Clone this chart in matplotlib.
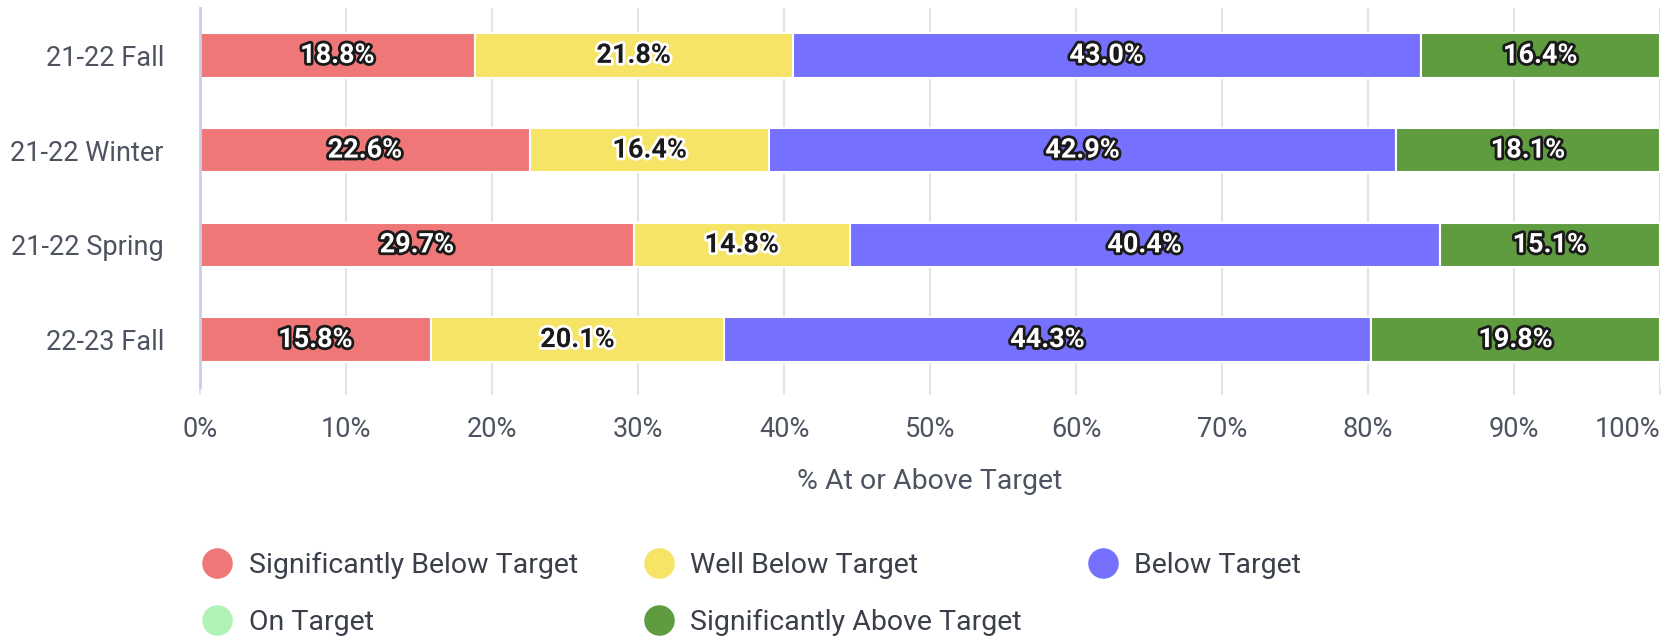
import matplotlib.pyplot as plt
import matplotlib.patheffects as pe
from matplotlib.lines import Line2D
import numpy as np

plt.rcParams['font.family'] = ['Roboto', 'DejaVu Sans']

terms = ['21-22 Fall', '21-22 Winter', '21-22 Spring', '22-23 Fall']
levels = ['Significantly Below Target', 'Well Below Target', 'Below Target',
          'On Target', 'Significantly Above Target']
sig_below = [18.8, 22.6, 29.7, 15.8]
well_below = [21.8, 16.4, 14.8, 20.1]
below = [43.0, 42.9, 40.4, 44.3]
on_target = [0, 0, 0, 0]
sig_above = [16.4, 18.1, 15.1, 19.8]

colors = ['#f07777', '#f5e465', '#7570fe', '#b0f2b6', '#5f9b3f']
series = [sig_below, well_below, below, on_target, sig_above]

fig = plt.figure(figsize=(16.63, 6.39), dpi=100)
ax = fig.add_axes([0.1203, 0.3944, 0.8779, 0.5931])

y = np.arange(len(terms))
left = np.zeros(len(terms))
for vals, col in zip(series, colors):
    vals = np.array(vals, dtype=float)
    ax.barh(y, vals, left=left, height=0.47, color=col,
            edgecolor='white', linewidth=1.5, zorder=3)
    for yi, l, v in zip(y, left, vals):
        if v <= 0:
            continue
        if col == '#f5e465':
            tc, oc = '#1a1a1a', 'white'
        else:
            tc, oc = 'white', '#1a1a1a'
        ax.text(l + v / 2, yi, '{:.1f}%'.format(v), ha='center', va='center',
                fontsize=19.5, fontweight='bold', color=tc, zorder=4,
                path_effects=[pe.withStroke(linewidth=4, foreground=oc)])
    left += vals

ax.set_xlim(0, 100)
ax.set_ylim(-0.5, 3.5)
ax.invert_yaxis()
ax.set_yticks(y)
ax.set_yticklabels(terms)
ax.set_xticks(np.arange(0, 101, 10))
ax.set_xticklabels(['{}%'.format(t) for t in range(0, 101, 10)])
ax.get_xticklabels()[-1].set_horizontalalignment('right')
ax.tick_params(axis='x', length=6, color='#e4e4e4', width=1.5, pad=15,
               labelsize=19.5, labelcolor='#4d5360')
ax.tick_params(axis='y', length=0, pad=26, labelsize=19.5, labelcolor='#4d5360')
ax.grid(axis='x', color='#e4e4e4', linewidth=1.5, zorder=0)
for s in ['top', 'right', 'bottom']:
    ax.spines[s].set_visible(False)
ax.spines['left'].set_color('#c9cdea')
ax.spines['left'].set_linewidth(2)
ax.spines['left'].set_zorder(5)
ax.set_xlabel('% At or Above Target', fontsize=20.5, color='#4d5360', labelpad=18)

handles = [Line2D([], [], marker='o', linestyle='none', markersize=21,
                  markerfacecolor=c, markeredgecolor=c) for c in colors]
order = [0, 3, 1, 4, 2]
fig.legend([handles[i] for i in order], [levels[i] for i in order],
           loc='upper left', bbox_to_anchor=(0.1128, 0.159), ncol=3,
           frameon=False, fontsize=20.5, labelcolor='#3a3f4a', borderpad=0,
           handlelength=1.1, handletextpad=0.55, columnspacing=2.3,
           labelspacing=1.06)

fig.savefig('out.png', dpi=100, facecolor='white')
